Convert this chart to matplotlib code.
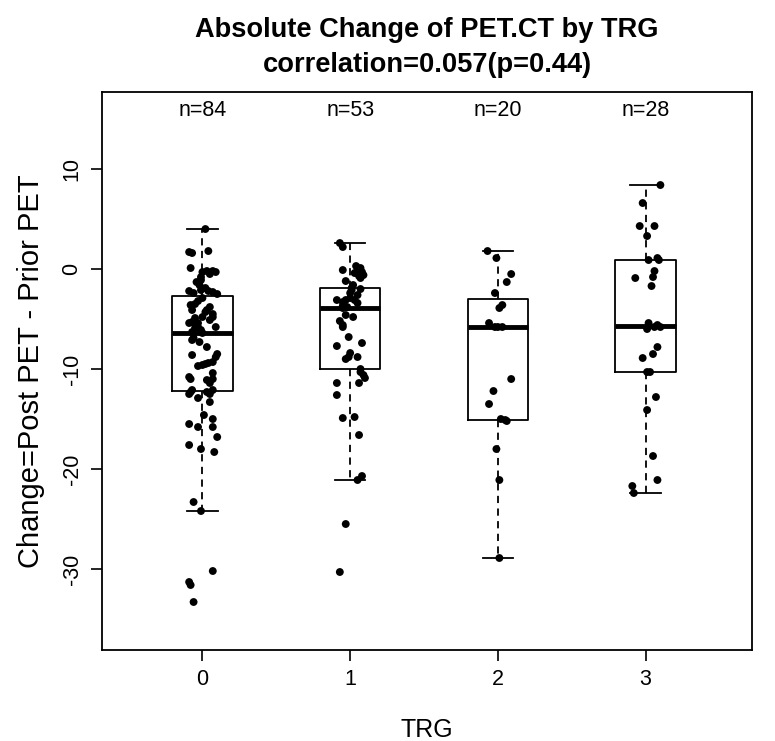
import numpy as np
import matplotlib
matplotlib.use("Agg")
import matplotlib.pyplot as plt

# TRG groups and the n= labels shown above each box
TRG_LEVELS = [0, 1, 2, 3]
N_LABELS = ["n=84", "n=53", "n=20", "n=28"]

# Change = Post PET - Prior PET (one value per dot)
trg0_change = [
    4.0, 1.7, 1.6, 1.8, 0.1, -0.3, -0.2, -0.2, -0.3, -0.8, -1.1, -1.6, -2.2, -2.1,
    -2.2, -2.3, -2.5, -2.9, -3.2, -3.6, -3.5, -3.8, -4.1, -4.3, -4.5, -4.1, -4.9,
    -4.8, -4.8, -5.4, -5.3, -5.4, -5.1, -5.8, -5.9, -5.8, -6.1, -6.3, -6.4, -6.9,
    -7.3, -7.1, -7.8, -8.6, -8.5, -8.8, -9.3, -9.4, -9.5, -9.6, -9.7, -10.4, -10.8,
    -11.0, -11.1, -11.0, -11.4, -12.3, -12.1, -12.5, -12.3, -12.1, -12.5, -12.9,
    -13.3, -14.6, -15.0, -15.5, -15.8, -15.8, -16.8, -17.6, -18.0, -18.3, -23.3,
    -24.2, -30.2, -31.3, -31.6, -33.3, -0.5, -1.3, -1.9, -2.4,
]
trg1_change = [
    2.6, 2.2, -0.1, -0.4, 0.1, -0.3, -0.6, -0.9, -2.1, -2.0, -2.4, -2.6, -3.1, -3.3,
    -3.1, -2.9, -3.1, -3.4, -3.7, -3.8, -3.9, -4.6, -4.8, -5.2, -5.6, -5.8, -6.8,
    -7.7, -7.4, -8.4, -8.8, -9.0, -8.8, -10.0, -10.3, -10.6, -10.9, -11.4, -11.4,
    -12.6, -14.9, -14.8, -16.6, -20.7, -21.1, -25.5, -30.3, 0.3, -0.2, -0.7, -1.2,
    -1.6, -1.9,
]
trg2_change = [
    1.8, 1.1, -0.5, -1.3, -2.4, -3.6, -3.9, -5.4, -5.8, -5.8, -5.8,
    -11.0, -12.2, -13.5, -15.0, -15.1, -15.2, -18.0, -21.1, -28.9,
]
trg3_change = [
    8.4, 6.6, 4.3, 4.3, 3.3, 0.9, 1.1, 0.9, -0.2, -0.8, -0.9, -1.7, -5.4, -6.0,
    -5.8, -5.6, -5.8, -7.8, -8.5, -8.9, -10.3, -10.3, -12.8, -14.1, -18.7, -21.1,
    -21.7, -22.4,
]

# horizontal jitter of each dot (TRG units)
trg0_jitter = [
    0.02, -0.09, -0.07, 0.04, -0.08, 0.00, 0.03, 0.07, 0.09, -0.01, -0.01, -0.02,
    -0.09, -0.01, 0.04, 0.07, 0.10, 0.00, -0.03, -0.08, -0.05, 0.05, -0.07, 0.02,
    0.07, 0.03, -0.05, 0.00, 0.07, -0.09, -0.07, -0.03, 0.05, 0.09, -0.05, -0.03,
    -0.01, -0.07, 0.00, -0.06, -0.02, -0.07, 0.03, -0.07, 0.10, 0.09, 0.07, 0.04,
    0.02, 0.00, -0.03, 0.07, -0.09, -0.08, 0.03, 0.07, 0.05, -0.08, -0.07, -0.09,
    0.03, 0.07, 0.05, -0.03, 0.05, 0.01, 0.07, -0.09, -0.03, 0.07, 0.10, -0.09,
    -0.01, 0.08, -0.06, -0.01, 0.07, -0.09, -0.08, -0.06, 0.05, -0.04, 0.02, -0.06,
]
trg1_jitter = [
    -0.07, -0.05, -0.05, 0.03, 0.07, 0.08, 0.09, 0.07, 0.01, 0.07, 0.00, 0.05,
    -0.09, -0.05, -0.03, 0.00, 0.03, 0.05, -0.05, -0.02, -0.05, -0.03, 0.02, -0.07,
    -0.05, -0.05, -0.01, -0.09, 0.08, 0.00, -0.01, -0.03, 0.05, 0.07, 0.07, 0.09,
    0.10, 0.06, -0.09, -0.09, -0.05, 0.03, 0.06, 0.08, 0.05, -0.03, -0.07, 0.04,
    0.05, 0.06, -0.03, 0.02, 0.01,
]
trg2_jitter = [
    -0.07, -0.01, 0.09, 0.06, -0.02, 0.03, 0.01, -0.06, 0.03, 0.00, -0.02,
    0.09, -0.03, -0.06, 0.02, 0.05, 0.06, -0.01, 0.01, 0.01,
]
trg3_jitter = [
    0.10, -0.02, -0.04, 0.06, 0.01, 0.02, 0.08, 0.09, 0.06, 0.05, -0.07, 0.04,
    0.02, 0.01, 0.06, 0.08, 0.10, 0.08, 0.05, -0.02, 0.01, 0.03, 0.07, 0.01, 0.05,
    0.08, -0.09, -0.08,
]

groups = [trg0_change, trg1_change, trg2_change, trg3_change]
jitters = [trg0_jitter, trg1_jitter, trg2_jitter, trg3_jitter]
for g, j in zip(groups, jitters):
    assert len(g) == len(j)


def r_box_stats(values, label):
    # R's boxplot uses Tukey hinges (fivenum) and 1.5*IQR whiskers
    x = np.sort(np.asarray(values, dtype=float))
    n = len(x)
    n4 = np.floor((n + 3) / 2) / 2
    d = np.array([1, n4, (n + 1) / 2, n + 1 - n4, n]) - 1
    five = 0.5 * (x[np.floor(d).astype(int)] + x[np.ceil(d).astype(int)])
    q1, med, q3 = five[1], five[2], five[3]
    iqr = q3 - q1
    inside = x[(x >= q1 - 1.5 * iqr) & (x <= q3 + 1.5 * iqr)]
    return dict(med=med, q1=q1, q3=q3, whislo=inside.min(), whishi=inside.max(),
                fliers=[], label=label)


plt.rcParams["font.family"] = ["Liberation Sans", "DejaVu Sans"]

fig = plt.figure(figsize=(7.75, 7.41), dpi=100)
ax = fig.add_axes([0.1316, 0.1228, 0.8387, 0.7530])

stats = [r_box_stats(g, str(lvl)) for g, lvl in zip(groups, TRG_LEVELS)]
ax.bxp(
    stats,
    positions=TRG_LEVELS,
    widths=0.41,
    capwidths=0.205,
    showfliers=False,
    boxprops=dict(color="black", linewidth=1.3),
    medianprops=dict(color="black", linewidth=3.5, solid_capstyle="butt"),
    whiskerprops=dict(color="black", linewidth=1.3, linestyle=(0, (4, 3))),
    capprops=dict(color="black", linewidth=1.3),
    zorder=2,
)

for lvl, g, j in zip(TRG_LEVELS, groups, jitters):
    xs = lvl + np.asarray(j)
    ax.scatter(xs, g, s=32, color="black", edgecolors="none", zorder=3)

for lvl, lab in zip(TRG_LEVELS, N_LABELS):
    ax.text(lvl, 15.9, lab, ha="center", va="center", fontsize=15.5)

ax.set_xlim(-0.68, 3.72)
ax.set_ylim(-38.1, 17.7)
ax.set_xticks(TRG_LEVELS)
ax.set_xticklabels([str(v) for v in TRG_LEVELS], fontsize=15.5)
ax.set_yticks([-30, -20, -10, 0, 10])
ax.set_yticklabels(["-30", "-20", "-10", "0", "10"], fontsize=15.5,
                   rotation=90, va="center")
ax.tick_params(direction="out", length=8, width=1.2, pad=6)
for sp in ax.spines.values():
    sp.set_linewidth(1.3)

ax.set_xlabel("TRG", fontsize=18, labelpad=20)
ax.set_ylabel("Change=Post PET - Prior PET", fontsize=21, labelpad=12)

# title centred over the plotting region, as R does
title_x = 0.1316 + 0.8387 / 2
fig.text(title_x, 1 - 30 / 741, "Absolute Change of PET.CT by TRG",
         ha="center", va="center", fontsize=19.6, fontweight="bold")
fig.text(title_x, 1 - 65 / 741, "correlation=0.057(p=0.44)",
         ha="center", va="center", fontsize=19.6, fontweight="bold")

fig.savefig("out.png", dpi=100)
